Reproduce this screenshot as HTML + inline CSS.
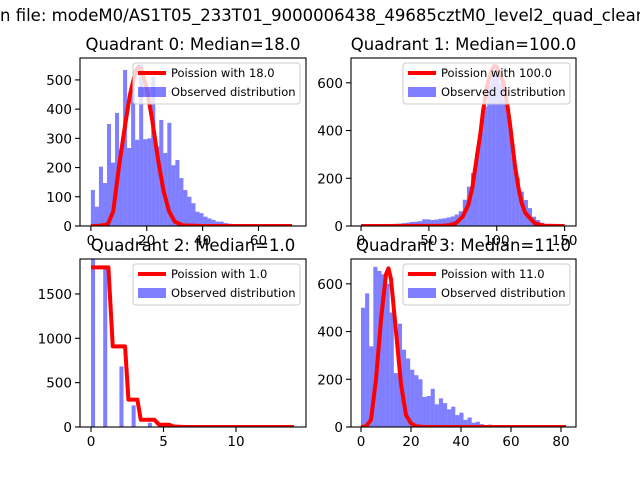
<!DOCTYPE html>
<html><head><meta charset="utf-8">
<style>
html,body{margin:0;padding:0;background:#fff;width:640px;height:480px;overflow:hidden}
svg{display:block}
text{font-family:"DejaVu Sans","Liberation Sans",sans-serif;fill:#000}
</style></head>
<body>
<svg id="fig" width="640" height="480" viewBox="0 0 640 480">
<text x="0" y="21" font-size="16.5">n file: modeM0/AS1T05_233T01_9000006438_49685cztM0_level2_quad_clean</text>
</svg>
<script>
// Quadrant 0
const q0Bars = [123,66,203,147,349,217,387,263,534,267,494,295,551,297,300,511,272,363,250,353,208,226,164,123,100,78,49,44,32,26,21,15,15,10,8,5,5,3,3,2,2,1,1,1,1,0,1,0,0,1];
const q0LineX = [0,3,6,8,10,12,14,16,17,18,20,22,24,26,28,30,33,40,72];
const q0LineY = [0,1,5,50,200,330,450,530,545,540,470,360,230,120,50,15,2,0,0];
const q0XTicks = [0,20,40,60];
const q0YTicks = [0,100,200,300,400,500];
// Quadrant 1
const q1Bars = [3,3,4,4,5,6,7,8,9,10,12,14,17,18,20,28,28,25,27,30,32,36,40,48,62,110,165,222,305,400,500,590,650,655,600,530,444,293,201,144,109,75,39,25,14,6,4,3,2,1];
const q1LineX = [0,60,65,70,75,79,82,85,88,90,93,96,98,100,102,105,108,110,113.5,116,118.4,121,124.5,128,132,135,150];
const q1LineY = [0,1,3,12,40,88,160,276,390,486,590,650,670,668,640,600,500,416,249,160,96,55,33,12,5,1,0];
const q1XTicks = [0,50,100,150];
const q1YTicks = [0,200,400,600];
// Quadrant 2
const q2Bars = [1950,0,0,1790,0,0,0,683,0,0,244,0,0,0,48,0,0,0,10,0,0,0,0,0,0,0,0,0,0,0,0,0,0,0,0,0,0,0,0,0,0,0,0,0,0,0,0,0,0,0];
const q2LineX = [0,1.2,1.5,2.35,2.58,3.2,3.43,4.37,4.7,5.4,5.7,6.5,14];
const q2LineY = [1800,1800,909,909,308,308,82,82,26,26,5,0,0];
const q2XTicks = [0,5,10];
const q2YTicks = [0,500,1000,1500];
// Quadrant 3
const q3Bars = [500,560,338,671,654,640,600,480,226,433,324,287,240,217,200,126,130,160,95,120,100,74,85,50,60,30,40,18,22,12,8,10,5,4,3,2,2,1,1,1,0,0,0,0,0,0,0,0,0,1];
const q3LineX = [0,2,4,6,8,10,11,12,14,16,18,20,22,25,82];
const q3LineY = [0,2,30,200,450,640,665,620,400,180,50,15,3,0,0];
const q3XTicks = [0,20,40,60,80];
const q3YTicks = [0,200,400,600];

const NS = 'http://www.w3.org/2000/svg';
const fig = document.getElementById('fig');
function mk(tag, attrs, parent){
  const e = document.createElementNS(NS, tag);
  for (const k in attrs) e.setAttribute(k, attrs[k]);
  (parent||fig).appendChild(e);
  return e;
}
const quads = [
 {id:0,title:'Quadrant 0: Median=18.0',lab:'Poission with 18.0',L:80,T:58,R:306,B:226,xmin:-3.9,xmax:77,ymax:575,dmin:0,dmax:72,bars:q0Bars,lx:q0LineX,ly:q0LineY,xt:q0XTicks,yt:q0YTicks},
 {id:1,title:'Quadrant 1: Median=100.0',lab:'Poission with 100.0',L:351,T:58,R:576,B:226,xmin:-7.4,xmax:158.4,ymax:704,dmin:0,dmax:150,bars:q1Bars,lx:q1LineX,ly:q1LineY,xt:q1XTicks,yt:q1YTicks},
 {id:2,title:'Quadrant 2: Median=1.0',lab:'Poission with 1.0',L:80,T:259,R:306,B:427,xmin:-0.76,xmax:14.83,ymax:1894,dmin:0,dmax:14,bars:q2Bars,lx:q2LineX,ly:q2LineY,xt:q2XTicks,yt:q2YTicks},
 {id:3,title:'Quadrant 3: Median=11.0',lab:'Poission with 11.0',L:351,T:259,R:576,B:427,xmin:-4,xmax:86,ymax:704,dmin:0,dmax:82,bars:q3Bars,lx:q3LineX,ly:q3LineY,xt:q3XTicks,yt:q3YTicks}
];
quads.forEach(q=>{
  const g = mk('g',{});
  
  
  const sx = v => q.L + (v - q.xmin)/(q.xmax - q.xmin)*(q.R - q.L);
  const sy = v => q.B - v/q.ymax*(q.B - q.T);
  const cp = mk('clipPath',{id:'clip'+q.id},g);
  mk('rect',{x:q.L,y:q.T,width:q.R-q.L,height:q.B-q.T},cp);
  const plot = mk('g',{'clip-path':'url(#clip'+q.id+')'},g);
  const n = q.bars.length, w = (q.dmax-q.dmin)/n;
  q.bars.forEach((v,i)=>{
    if (v<=0) return;
    const x0 = sx(q.dmin+i*w), x1 = sx(q.dmin+(i+1)*w);
    const r = mk('rect',{x:x0,y:sy(v),width:x1-x0,height:sy(0)-sy(v),fill:'#0000ff','fill-opacity':0.5},plot);
    
    
  });
  const pts = q.lx.map((x,i)=>sx(x)+','+sy(q.ly[i])).join(' ');
  const pl = mk('polyline',{points:pts,fill:'none',stroke:'#ff0000','stroke-width':4,'stroke-linejoin':'round'},plot);
  
  
  mk('rect',{x:q.L,y:q.T,width:q.R-q.L,height:q.B-q.T,fill:'none',stroke:'#000','stroke-width':1.1},g);
  q.xt.forEach(t=>{
    const x = sx(t);
    mk('line',{x1:x,x2:x,y1:q.B,y2:q.B+5,stroke:'#000','stroke-width':1.1},g);
    const tx = mk('text',{x:x,y:q.B+19,'font-size':13.5,'text-anchor':'middle'},g);
    tx.textContent = t;
    
    
  });
  q.yt.forEach(t=>{
    const y = sy(t);
    mk('line',{x1:q.L-5,x2:q.L,y1:y,y2:y,stroke:'#000','stroke-width':1.1},g);
    const tx = mk('text',{x:q.L-8,y:y+5,'font-size':13.5,'text-anchor':'end'},g);
    tx.textContent = t;
    
    
  });
  const ti = mk('text',{x:(q.L+q.R)/2,y:q.T-8,'font-size':16.5,'text-anchor':'middle'},g);
  ti.textContent = q.title;
  
  
  // legend
  const lg = mk('g',{},g);
  
  
  const lx = q.L+53+(q.id%2?0:0), ly = q.T+5;
  const LX = q.id%2 ? q.R-173 : q.R-173;
  mk('rect',{x:LX,y:ly,width:167,height:41,rx:3,fill:'#fff','fill-opacity':0.8,stroke:'#ccc','stroke-width':1},lg);
  mk('line',{x1:LX+5,x2:LX+33,y1:ly+10,y2:ly+10,stroke:'#ff0000','stroke-width':4},lg);
  const t1 = mk('text',{x:LX+38,y:ly+14,'font-size':11.5},lg);
  t1.textContent = q.lab;
  
  
  mk('rect',{x:LX+5,y:ly+24,width:28,height:10,fill:'#0000ff','fill-opacity':0.5},lg);
  const t2 = mk('text',{x:LX+38,y:ly+33,'font-size':11.5},lg);
  t2.textContent = 'Observed distribution';
  
  
});
</script>
</body></html>
